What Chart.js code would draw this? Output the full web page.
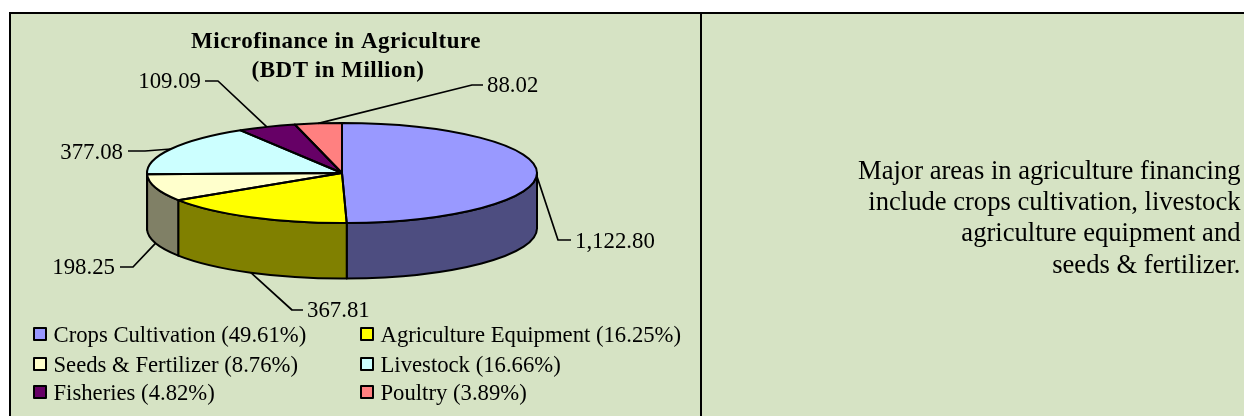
<!DOCTYPE html>
<html><head><meta charset="utf-8">
<style>html,body{margin:0;padding:0;background:#fff}canvas{display:block}</style>
<script src="https://cdn.jsdelivr.net/npm/chart.js@4"></script>
</head><body><canvas id="c" width="1244" height="416"></canvas>
<script>
const categories = ['Crops Cultivation','Agriculture Equipment','Seeds & Fertilizer','Livestock','Fisheries','Poultry'];
const values = [1122.80,367.81,198.25,377.08,109.09,88.02];
const valueLabels = ['1,122.80','367.81','198.25','377.08','109.09','88.02'];
const titleLines = ['Microfinance in Agriculture','(BDT in Million)'];
const noteLines = ['Major areas in agriculture financing','include crops cultivation, livestock','agriculture equipment and','seeds & fertilizer.'];
const faceColors = ['#9999ff','#ffff00','#ffffcc','#ccffff','#660066','#ff8080'];
const sideColors = ['#4d4d80','#808000','#808066','#668080','#330033','#804040'];

const FONT = '"Liberation Serif","Times New Roman",serif';
const PANEL = '#d6e3c4';
const G = {cx:342, cy:173, rx:195, ry:50, depth:55.5};
const leaders = [
 {elbow:[558,240], end:[571,240], tx:575, ty:248, align:'left', wall:true},
 {elbow:[292,310], end:[303,310], tx:307, ty:317, align:'left', wall:true},
 {elbow:[133,267], end:[120,267], tx:115, ty:274, align:'right', wall:true},
 {elbow:[145,151], end:[128,151], tx:123, ty:159, align:'right', wall:false},
 {elbow:[218,81], end:[205,81], tx:201, ty:88, align:'right', wall:false},
 {elbow:[472,85], end:[483,85], tx:487, ty:92, align:'left', wall:false}
];
const legendCells = [[34,334],[361,334],[34,364],[361,364],[34,392],[361,392]];

const total = values.reduce((a,b)=>a+b,0);
const legendText = categories.map((c,i)=>c+' ('+(values[i]/total*100).toFixed(2)+'%)');

const pie3d = {
 id:'pie3d',
 beforeDraw(chart){
  const ctx = chart.ctx;
  ctx.save();
  ctx.fillStyle = PANEL; ctx.fillRect(10,13,1234,403);
  ctx.strokeStyle = '#000'; ctx.lineWidth = 2;
  ctx.beginPath();
  ctx.moveTo(10,416); ctx.lineTo(10,13); ctx.lineTo(1244,13);
  ctx.moveTo(701,13); ctx.lineTo(701,416);
  ctx.stroke();
  ctx.restore();
 },
 beforeDatasetsDraw(chart){
  const ctx = chart.ctx, arcs = chart.getDatasetMeta(0).data;
  ctx.save();
  ctx.strokeStyle = '#000'; ctx.lineWidth = 2; ctx.lineJoin = 'round';
  arcs.forEach((a,i)=>{
   const p = a.getProps(['startAngle','endAngle']);
   const s = Math.max(p.startAngle,0), e = Math.min(p.endAngle,Math.PI);
   if(e<=s) return;
   ctx.beginPath();
   ctx.ellipse(G.cx,G.cy,G.rx,G.ry,0,s,e);
   ctx.ellipse(G.cx,G.cy+G.depth,G.rx,G.ry,0,e,s,true);
   ctx.closePath();
   ctx.fillStyle = sideColors[i]; ctx.fill(); ctx.stroke();
  });
  const a0 = arcs[0];
  ctx.translate(G.cx,G.cy);
  ctx.scale(G.rx/a0.outerRadius,G.ry/a0.outerRadius);
  ctx.translate(-a0.x,-a0.y);
 },
 afterDatasetsDraw(chart){
  const ctx = chart.ctx, arcs = chart.getDatasetMeta(0).data;
  ctx.restore();
  ctx.save();
  ctx.strokeStyle = '#000'; ctx.lineWidth = 2; ctx.lineJoin = 'round';
  arcs.forEach(a=>{
   const p = a.getProps(['startAngle','endAngle']);
   ctx.beginPath();
   ctx.moveTo(G.cx,G.cy);
   ctx.ellipse(G.cx,G.cy,G.rx,G.ry,0,p.startAngle,p.endAngle);
   ctx.closePath();
   ctx.stroke();
  });
  ctx.lineWidth = 1.7;
  ctx.fillStyle = '#000';
  ctx.font = '22.8px '+FONT;
  ctx.textBaseline = 'alphabetic';
  arcs.forEach((a,i)=>{
   const p = a.getProps(['startAngle','endAngle']), m = (p.startAngle+p.endAngle)/2, L = leaders[i];
   const x = G.cx+G.rx*Math.cos(m), y = G.cy+G.ry*Math.sin(m)+(L.wall&&i>0?G.depth:(i===0?4:0));
   ctx.beginPath(); ctx.moveTo(x,y); ctx.lineTo(L.elbow[0],L.elbow[1]); ctx.lineTo(L.end[0],L.end[1]); ctx.stroke();
   ctx.textAlign = L.align;
   ctx.fillText(valueLabels[i],L.tx,L.ty);
  });
  ctx.textAlign = 'center';
  ctx.font = 'bold 23px '+FONT;
  ctx.letterSpacing = '0.5px';
  ctx.fillText(titleLines[0],336,48);
  ctx.fillText(titleLines[1],338,77);
  ctx.letterSpacing = '0px';
  ctx.textAlign = 'left';
  ctx.font = '22.7px '+FONT;
  legendCells.forEach((c,i)=>{
   ctx.fillStyle = faceColors[i];
   ctx.fillRect(c[0],c[1]-6,12,12);
   ctx.strokeStyle = '#000'; ctx.lineWidth = 2;
   ctx.strokeRect(c[0],c[1]-6,12,12);
   ctx.fillStyle = '#000';
   ctx.fillText(legendText[i],c[0]+19.5,c[1]+8);
  });
  ctx.textAlign = 'right';
  ctx.font = '26.6px '+FONT;
  noteLines.forEach((t,i)=>ctx.fillText(t,1240.5,179+i*31.2));
  ctx.restore();
 }
};

new Chart(document.getElementById('c'),{
 type:'pie',
 data:{labels:categories,datasets:[{data:values,backgroundColor:faceColors,borderWidth:0,clip:false}]},
 options:{responsive:false,animation:false,radius:195,
  events:[],
  plugins:{legend:{display:false},title:{display:false},tooltip:{enabled:false}}},
 plugins:[pie3d]
});
</script></body></html>
